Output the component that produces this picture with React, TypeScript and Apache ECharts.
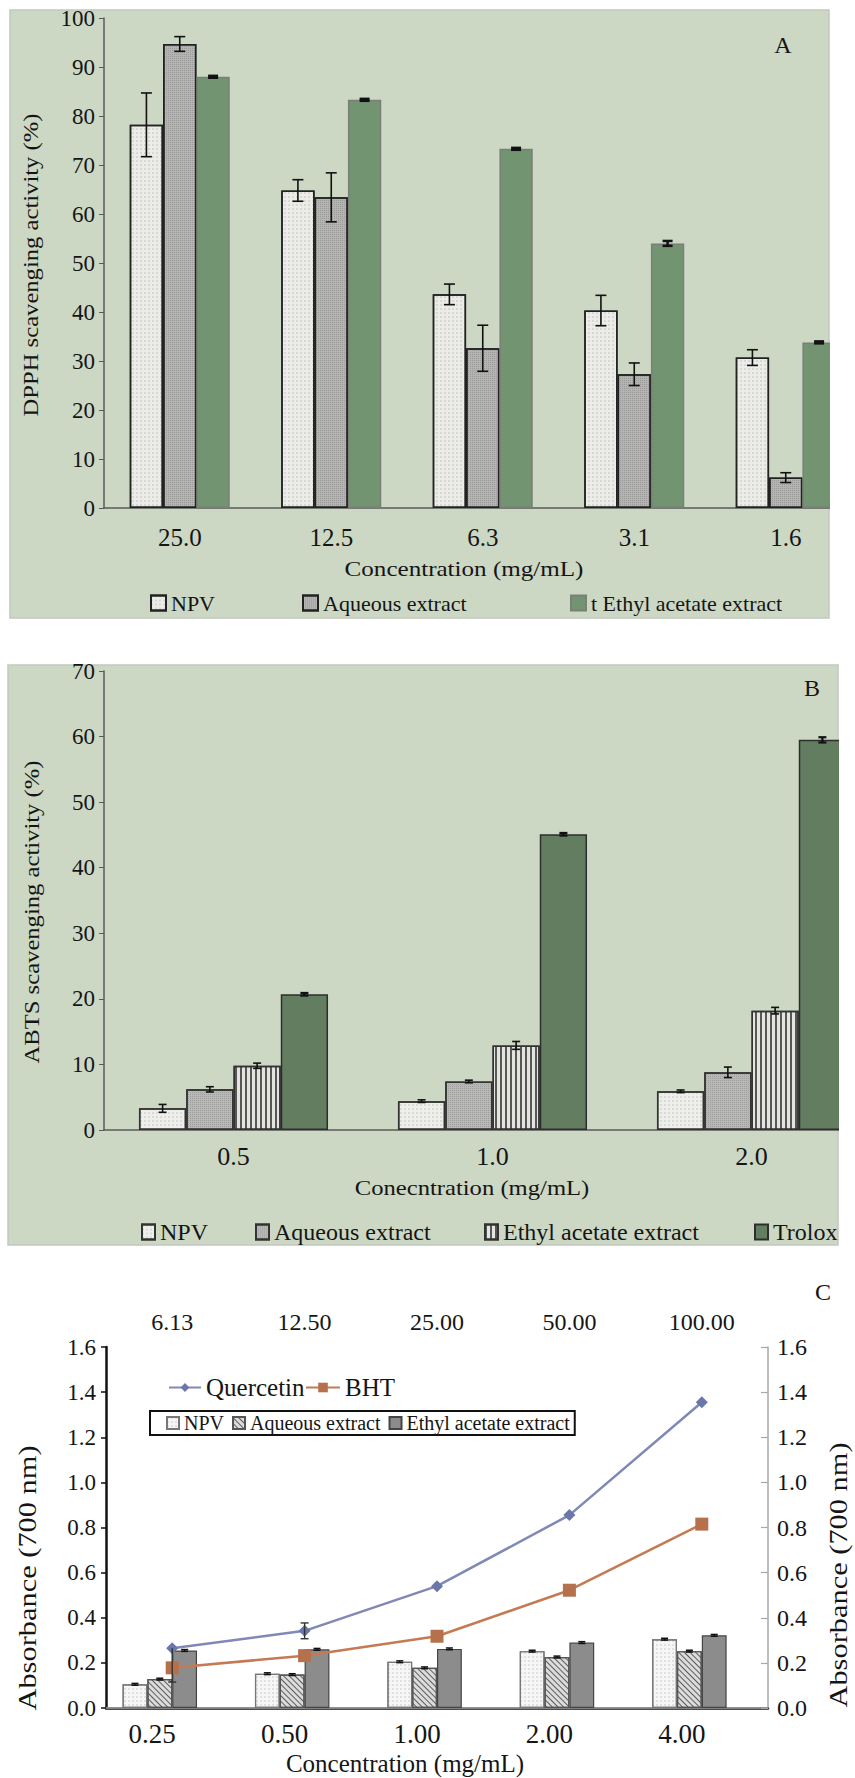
import React, { useEffect, useRef } from "react";
import * as echarts from "echarts";

// ---------- Panel A (DPPH) ----------
const catsA = ["25.0", "12.5", "6.3", "3.1", "1.6"];
const npvA = [78.2, 64.8, 43.6, 40.3, 30.7];
const npvAErr = [6.5, 2.2, 2.1, 3.1, 1.6];
const aqA = [94.7, 63.4, 32.6, 27.3, 6.2];
const aqAErr = [1.5, 5.0, 4.7, 2.3, 1.0];
const ethA = [88.0, 83.3, 73.3, 54.0, 33.8];
const ethAErr = [0.2, 0.2, 0.2, 0.5, 0.2];

// ---------- Panel B (ABTS) ----------
const catsB = ["0.5", "1.0", "2.0"];
const npvB = [3.3, 4.4, 5.9];
const npvBErr = [0.6, 0.2, 0.2];
const aqB = [6.2, 7.4, 8.8];
const aqBErr = [0.4, 0.2, 0.8];
const ethB = [9.8, 12.9, 18.2];
const ethBErr = [0.4, 0.6, 0.5];
const troloxB = [20.7, 45.1, 59.5];
const troloxBErr = [0.2, 0.2, 0.4];

// ---------- Panel C (reducing power) ----------
const catsC = ["0.25", "0.50", "1.00", "2.00", "4.00"];
const topCatsC = ["6.13", "12.50", "25.00", "50.00", "100.00"];
const npvC = [0.105, 0.152, 0.205, 0.252, 0.305];
const aqC = [0.128, 0.148, 0.178, 0.226, 0.252];
const ethC = [0.255, 0.26, 0.262, 0.29, 0.322];
const barErrC = [0.004, 0.004, 0.004, 0.004, 0.004];
const quercetin = [0.265, 0.342, 0.54, 0.855, 1.355];
const quercetinErrLow = [0.15, 0.035, 0, 0, 0];
const quercetinErrHigh = [0, 0.035, 0, 0, 0];
const bht = [0.178, 0.232, 0.318, 0.522, 0.815];

const FONT = "Liberation Serif, Times New Roman, serif";
const TXT = "#151515";

const dotDecal = {
  symbol: "circle",
  symbolSize: 0.6,
  color: "rgba(60,60,60,0.35)",
  dashArrayX: [2, 2],
  dashArrayY: [2, 2],
};
const fineDecal = {
  symbol: "rect",
  symbolSize: 1,
  color: "rgba(40,40,40,0.18)",
  dashArrayX: [1, 1],
  dashArrayY: [1, 1],
};
const stripeDecal = {
  symbol: "rect",
  symbolSize: 1,
  color: "rgba(40,40,40,0.75)",
  dashArrayX: [2, 3],
  dashArrayY: [5, 0],
};
const hatchDecal = {
  symbol: "rect",
  symbolSize: 1,
  color: "rgba(60,60,60,0.8)",
  dashArrayX: [5, 0],
  dashArrayY: [1, 3],
  rotation: Math.PI / 4,
};

type ErrSpec = {
  vals: number[];
  lo: number[];
  hi: number[];
  k: number;
  n: number;
  gap: number;
  cap: number;
  xi: number;
  yi: number;
  width?: number;
  color?: string;
};

function errorSeries(s: ErrSpec) {
  return {
    type: "custom",
    xAxisIndex: s.xi,
    yAxisIndex: s.yi,
    silent: true,
    z: 6,
    encode: { x: 0, y: 1 },
    data: s.vals.map((v, i) => [i, v, s.lo[i], s.hi[i]]),
    renderItem: (_params: any, api: any) => {
      const i = api.value(0);
      const v = api.value(1);
      const lo = api.value(2);
      const hi = api.value(3);
      if (!lo && !hi) return null;
      const band = api.size([1, 0])[0];
      const barW = (band * (1 - s.gap)) / s.n;
      const cx = api.coord([i, v])[0] + (s.k - (s.n - 1) / 2) * barW;
      const yT = api.coord([i, v + hi])[1];
      const yB = api.coord([i, v - lo])[1];
      const st = { stroke: s.color || "#111", lineWidth: s.width || 1.6 };
      const ch: any[] = [
        { type: "line", shape: { x1: cx, y1: yT, x2: cx, y2: yB }, style: st },
      ];
      if (hi > 0)
        ch.push({
          type: "line",
          shape: { x1: cx - s.cap / 2, y1: yT, x2: cx + s.cap / 2, y2: yT },
          style: st,
        });
      if (lo > 0)
        ch.push({
          type: "line",
          shape: { x1: cx - s.cap / 2, y1: yB, x2: cx + s.cap / 2, y2: yB },
          style: st,
        });
      return { type: "group", children: ch };
    },
  };
}

function sym(a: number[]) {
  return { lo: a, hi: a };
}

const nameFmt = (n: string) => n.split("|")[1];

function text(
  t: string,
  x: number,
  y: number,
  size: number,
  rot = 0,
  scaleX = 1
) {
  return {
    type: "text",
    x,
    y,
    rotation: rot,
    scaleX,
    z: 50,
    style: {
      text: t,
      fill: TXT,
      fontSize: size,
      fontFamily: FONT,
      align: "center",
      verticalAlign: "middle",
    },
  };
}

export default function App() {
  const ref = useRef<HTMLDivElement>(null);

  useEffect(() => {
    if (!ref.current) return;
    const chart = echarts.init(ref.current, undefined, { renderer: "svg" });

    const gapA = 0.34;
    const gapB = 0.27;
    const gapC = 0.25;

    const axisGray = { color: "#5a5a5a", width: 1.5 };

    const legendBase = {
      formatter: nameFmt,
      padding: 0,
      icon: "rect",
      textStyle: { fontFamily: FONT, color: TXT, fontSize: 22 },
      selectedMode: false,
    };
    const legB = (name: string, left: number) => ({
      ...legendBase,
      data: [name],
      left,
      top: 1220,
      itemWidth: 13,
      itemHeight: 15,
      textStyle: { ...legendBase.textStyle, fontSize: 24 },
    });

    const option: any = {
      animation: false,
      textStyle: { fontFamily: FONT, color: TXT },
      grid: [
        { left: 104, top: 18, width: 757.5, height: 490 },
        { left: 104, top: 671, width: 777, height: 459 },
        { left: 106, top: 1347, width: 662, height: 361 },
      ],
      xAxis: [
        {
          type: "category",
          gridIndex: 0,
          data: catsA,
          axisLine: { lineStyle: axisGray },
          axisTick: { length: 7, lineStyle: { color: "#5a5a5a", width: 1.2 } },
          axisLabel: { fontSize: 25, fontFamily: FONT, color: TXT, margin: 17, interval: 0 },
        },
        {
          type: "category",
          gridIndex: 1,
          data: catsB,
          axisLine: { lineStyle: axisGray },
          axisTick: { length: 7, lineStyle: { color: "#5a5a5a", width: 1.2 } },
          axisLabel: { fontSize: 26, fontFamily: FONT, color: TXT, margin: 13, interval: 0 },
        },
        {
          type: "category",
          gridIndex: 2,
          data: catsC,
          position: "bottom",
          axisLine: { lineStyle: { color: "#111", width: 2.5 } },
          axisTick: { length: 6, lineStyle: { color: "#111", width: 1.5 } },
          axisLabel: {
            interval: 0,
            margin: 12,
            formatter: (v: string) => `{a|${v}}`,
            rich: {
              a: {
                fontSize: 27,
                fontFamily: FONT,
                color: TXT,
                padding: [0, 40, 0, 0],
              },
            },
          },
        },
        {
          type: "category",
          gridIndex: 2,
          data: topCatsC,
          position: "top",
          axisLine: { lineStyle: { color: "#a8a8a8", width: 1.5 } },
          axisTick: { length: 6, lineStyle: { color: "#a8a8a8", width: 1.2 } },
          axisLabel: { fontSize: 24, fontFamily: FONT, color: TXT, margin: 13, interval: 0 },
        },
      ],
      yAxis: [
        {
          type: "value",
          gridIndex: 0,
          min: 0,
          max: 100,
          interval: 10,
          axisLine: { show: true, lineStyle: axisGray },
          axisTick: { show: true, length: 5, lineStyle: { color: "#5a5a5a" } },
          splitLine: { show: false },
          axisLabel: { fontSize: 23, fontFamily: FONT, color: TXT, margin: 9 },
        },
        {
          type: "value",
          gridIndex: 1,
          min: 0,
          max: 70,
          interval: 10,
          axisLine: { show: true, lineStyle: axisGray },
          axisTick: { show: true, length: 5, lineStyle: { color: "#5a5a5a" } },
          splitLine: { show: false },
          axisLabel: { fontSize: 23, fontFamily: FONT, color: TXT, margin: 9 },
        },
        {
          type: "value",
          gridIndex: 2,
          position: "left",
          min: 0,
          max: 1.6,
          interval: 0.2,
          axisLine: { show: true, lineStyle: { color: "#111", width: 2.5 } },
          axisTick: { show: true, length: 5, lineStyle: { color: "#111", width: 1.5 } },
          splitLine: { show: false },
          axisLabel: {
            fontSize: 23,
            fontFamily: FONT,
            color: TXT,
            margin: 10,
            formatter: (v: number) => v.toFixed(1),
          },
        },
        {
          type: "value",
          gridIndex: 2,
          position: "right",
          min: 0,
          max: 1.6,
          interval: 0.2,
          axisLine: { show: true, lineStyle: { color: "#a8a8a8", width: 1.5 } },
          axisTick: {
            show: true,
            inside: true,
            length: 7,
            lineStyle: { color: "#a8a8a8", width: 1.2 },
          },
          splitLine: { show: false },
          axisLabel: {
            fontSize: 24,
            fontFamily: FONT,
            color: TXT,
            margin: 9,
            formatter: (v: number) => v.toFixed(1),
          },
        },
      ],
      legend: [
        { ...legendBase, data: ["A|NPV"], left: 150, top: 592, itemWidth: 15, itemHeight: 15 },
        { ...legendBase, data: ["A|Aqueous extract"], left: 302, top: 592, itemWidth: 15, itemHeight: 15 },
        { ...legendBase, data: ["A|t Ethyl acetate extract"], left: 570, top: 592, itemWidth: 15, itemHeight: 15 },
        legB("B|NPV", 141),
        legB("B|Aqueous extract", 255),
        legB("B|Ethyl acetate extract", 484),
        legB("B|Trolox", 754),
        {
          formatter: nameFmt,
          selectedMode: false,
          padding: 0,
          data: ["C|Quercetin"],
          left: 168,
          top: 1375,
          itemWidth: 32,
          itemHeight: 11,
          textStyle: { fontFamily: FONT, color: TXT, fontSize: 25 },
        },
        {
          formatter: nameFmt,
          selectedMode: false,
          padding: 0,
          data: ["C|BHT"],
          left: 305,
          top: 1375,
          itemWidth: 34,
          itemHeight: 12,
          textStyle: { fontFamily: FONT, color: TXT, fontSize: 25 },
        },
        {
          formatter: nameFmt,
          selectedMode: false,
          icon: "rect",
          data: ["C|NPV", "C|Aqueous extract", "C|Ethyl acetate extract"],
          left: 150,
          top: 1411,
          itemGap: 8,
          itemWidth: 12,
          itemHeight: 12,
          borderColor: "#111",
          borderWidth: 2,
          padding: [2, 5, 2, 16],
          textStyle: { fontFamily: FONT, color: TXT, fontSize: 20 },
        },
      ],
      series: [
        // Panel A bars
        {
          name: "A|NPV",
          type: "bar",
          xAxisIndex: 0,
          yAxisIndex: 0,
          data: npvA,
          barGap: "0%",
          barCategoryGap: "34%",
          itemStyle: { color: "#ecece8", borderColor: "#222", borderWidth: 1.5, decal: dotDecal },
        },
        {
          name: "A|Aqueous extract",
          type: "bar",
          xAxisIndex: 0,
          yAxisIndex: 0,
          data: aqA,
          barGap: "0%",
          barCategoryGap: "34%",
          itemStyle: { color: "#b4b4b2", borderColor: "#222", borderWidth: 1.5, decal: fineDecal },
        },
        {
          name: "A|t Ethyl acetate extract",
          type: "bar",
          xAxisIndex: 0,
          yAxisIndex: 0,
          data: ethA,
          barGap: "0%",
          barCategoryGap: "34%",
          itemStyle: { color: "#729471", borderColor: "#7a7f78", borderWidth: 1.5 },
        },
        errorSeries({ vals: npvA, ...sym(npvAErr), k: 0, n: 3, gap: gapA, cap: 11, xi: 0, yi: 0 }),
        errorSeries({ vals: aqA, ...sym(aqAErr), k: 1, n: 3, gap: gapA, cap: 11, xi: 0, yi: 0 }),
        errorSeries({ vals: ethA, ...sym(ethAErr), k: 2, n: 3, gap: gapA, cap: 10, xi: 0, yi: 0, width: 2.5 }),

        // Panel B bars
        {
          name: "B|NPV",
          type: "bar",
          xAxisIndex: 1,
          yAxisIndex: 1,
          data: npvB,
          barGap: "0%",
          barCategoryGap: "27%",
          itemStyle: { color: "#eeeeea", borderColor: "#333", borderWidth: 1.5, decal: dotDecal },
        },
        {
          name: "B|Aqueous extract",
          type: "bar",
          xAxisIndex: 1,
          yAxisIndex: 1,
          data: aqB,
          barGap: "0%",
          barCategoryGap: "27%",
          itemStyle: { color: "#b8b8b6", borderColor: "#333", borderWidth: 1.5, decal: fineDecal },
        },
        {
          name: "B|Ethyl acetate extract",
          type: "bar",
          xAxisIndex: 1,
          yAxisIndex: 1,
          data: ethB,
          barGap: "0%",
          barCategoryGap: "27%",
          itemStyle: { color: "#e4e4e0", borderColor: "#333", borderWidth: 1.5, decal: stripeDecal },
        },
        {
          name: "B|Trolox",
          type: "bar",
          xAxisIndex: 1,
          yAxisIndex: 1,
          data: troloxB,
          barGap: "0%",
          barCategoryGap: "27%",
          itemStyle: { color: "#627d60", borderColor: "#2e2e2e", borderWidth: 1.5 },
        },
        errorSeries({ vals: npvB, ...sym(npvBErr), k: 0, n: 4, gap: gapB, cap: 8, xi: 1, yi: 1 }),
        errorSeries({ vals: aqB, ...sym(aqBErr), k: 1, n: 4, gap: gapB, cap: 8, xi: 1, yi: 1 }),
        errorSeries({ vals: ethB, ...sym(ethBErr), k: 2, n: 4, gap: gapB, cap: 8, xi: 1, yi: 1 }),
        errorSeries({ vals: troloxB, ...sym(troloxBErr), k: 3, n: 4, gap: gapB, cap: 8, xi: 1, yi: 1, width: 2.2 }),

        // Panel C bars (4 slots per group, last slot empty)
        {
          name: "C|NPV",
          type: "bar",
          xAxisIndex: 2,
          yAxisIndex: 2,
          data: npvC,
          barGap: "0%",
          barCategoryGap: "25%",
          itemStyle: { color: "#f6f6f6", borderColor: "#777", borderWidth: 1.2, decal: dotDecal },
        },
        {
          name: "C|Aqueous extract",
          type: "bar",
          xAxisIndex: 2,
          yAxisIndex: 2,
          data: aqC,
          barGap: "0%",
          barCategoryGap: "25%",
          itemStyle: { color: "#dcdcdc", borderColor: "#555", borderWidth: 1.2, decal: hatchDecal },
        },
        {
          name: "C|Ethyl acetate extract",
          type: "bar",
          xAxisIndex: 2,
          yAxisIndex: 2,
          data: ethC,
          barGap: "0%",
          barCategoryGap: "25%",
          itemStyle: { color: "#8c8c8c", borderColor: "#444", borderWidth: 1.2 },
        },
        {
          name: "C|empty",
          type: "bar",
          xAxisIndex: 2,
          yAxisIndex: 2,
          data: ["-", "-", "-", "-", "-"],
          barGap: "0%",
          barCategoryGap: "25%",
          itemStyle: { color: "transparent" },
        },
        errorSeries({ vals: npvC, ...sym(barErrC), k: 0, n: 4, gap: gapC, cap: 7, xi: 2, yi: 2, width: 1.5 }),
        errorSeries({ vals: aqC, ...sym(barErrC), k: 1, n: 4, gap: gapC, cap: 7, xi: 2, yi: 2, width: 1.5 }),
        errorSeries({ vals: ethC, ...sym(barErrC), k: 2, n: 4, gap: gapC, cap: 7, xi: 2, yi: 2, width: 1.5 }),

        // Panel C lines
        {
          name: "C|Quercetin",
          type: "line",
          xAxisIndex: 3,
          yAxisIndex: 3,
          data: quercetin,
          z: 5,
          symbol: "diamond",
          symbolSize: 12,
          lineStyle: { color: "#8088b6", width: 2.5 },
          itemStyle: { color: "#6b77aa" },
        },
        {
          name: "C|BHT",
          type: "line",
          xAxisIndex: 3,
          yAxisIndex: 3,
          data: bht,
          z: 5,
          symbol: "rect",
          symbolSize: 13,
          lineStyle: { color: "#c47a52", width: 2.5 },
          itemStyle: { color: "#b5704c" },
        },
        errorSeries({
          vals: quercetin,
          lo: quercetinErrLow,
          hi: quercetinErrHigh,
          k: 0,
          n: 1,
          gap: 0,
          cap: 8,
          xi: 3,
          yi: 3,
          width: 1.4,
          color: "#333",
        }),
      ],
      graphic: {
        elements: [
          {
            type: "rect",
            z: -10,
            shape: { x: 10, y: 10, width: 819, height: 608 },
            style: { fill: "#ccd8c4", stroke: "#c2c8bf", lineWidth: 1.5 },
          },
          {
            type: "rect",
            z: -10,
            shape: { x: 8, y: 665, width: 830, height: 580 },
            style: { fill: "#ccd8c4", stroke: "#c2c8bf", lineWidth: 1.5 },
          },
          { type: "rect", z: 100, shape: { x: 830, y: 0, width: 80, height: 640 }, style: { fill: "#ffffff" } },
          { type: "rect", z: 100, shape: { x: 839, y: 640, width: 70, height: 620 }, style: { fill: "#ffffff" } },
          text("DPPH scavenging activity (%)", 30, 265, 22, Math.PI / 2, 1.12),
          text("Concentration (mg/mL)", 464, 569, 22, 0, 1.14),
          text("A", 783, 45, 24),
          text("ABTS scavenging activity (%)", 31, 912, 22, Math.PI / 2, 1.12),
          text("Conecntration (mg/mL)", 472, 1187, 22, 0, 1.12),
          text("B", 812, 688, 24),
          text("Absorbance (700 nm)", 27, 1578, 26, Math.PI / 2, 1.17),
          text("Absorbance (700 nm)", 838, 1575, 26, Math.PI / 2, 1.17),
          text("Concentration (mg/mL)", 405, 1763, 25),
          text("C", 823, 1292, 24),
        ],
      },
    };

    chart.setOption(option);
    return () => chart.dispose();
  }, []);

  return (
    <div
      style={{
        position: "absolute",
        left: 0,
        top: 0,
        width: 855,
        height: 1778,
        overflow: "hidden",
        background: "#fff",
      }}
    >
      <div ref={ref} style={{ width: 900, height: 1778 }} />
    </div>
  );
}
